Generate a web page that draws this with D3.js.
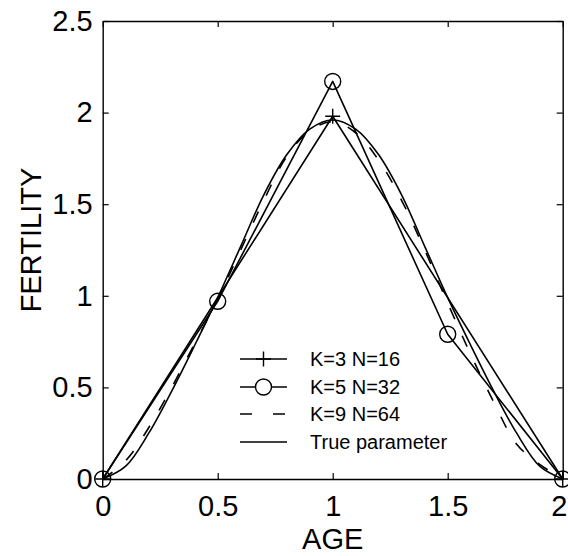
<!DOCTYPE html>
<html>
<head>
<meta charset="utf-8">
<script src="https://cdn.jsdelivr.net/npm/d3@7"></script>
<style>
  html, body { margin: 0; padding: 0; background: #fff; }
  svg { display: block; font-family: "Liberation Sans", Arial, Helvetica, sans-serif; }
</style>
</head>
<body>
<svg id="chart" width="568" height="556"></svg>
<script>
// ---- data ----
const ageK3 = [0, 1, 2];
const fertK3 = [0, 1.98, 0];

const ageK5 = [0, 0.5, 1, 1.5, 2];
const fertK5 = [0, 0.97, 2.17, 0.79, 0];

const ageK9 = [0, 0.1, 0.2, 0.3, 0.4, 0.5, 0.6, 0.7, 0.8, 0.9, 1.0, 1.1, 1.2, 1.3, 1.4, 1.5, 1.6, 1.7, 1.8, 1.9, 2.0];
const fertK9 = [0, 0.10, 0.28, 0.50, 0.74, 0.98, 1.25, 1.52, 1.76, 1.90, 1.95, 1.89, 1.74, 1.52, 1.25, 0.96, 0.68, 0.42, 0.19, 0.08, 0];

const ageTrue = [0, 0.1, 0.2, 0.3, 0.4, 0.5, 0.6, 0.7, 0.8, 0.9, 1.0, 1.1, 1.2, 1.3, 1.4, 1.5, 1.6, 1.7, 1.8, 1.9, 2.0];
const fertTrue = [0, 0.07, 0.25, 0.48, 0.73, 0.99, 1.27, 1.55, 1.77, 1.91, 1.96, 1.91, 1.77, 1.55, 1.27, 0.99, 0.73, 0.48, 0.25, 0.07, 0];

const xTicks = [0, 0.5, 1, 1.5, 2];
const yTicks = [0, 0.5, 1, 1.5, 2, 2.5];
const legendLabels = ["K=3 N=16", "K=5 N=32", "K=9 N=64", "True parameter"];
const xTitle = "AGE";
const yTitle = "FERTILITY";

// ---- layout ----
const L = 102.7, R = 562.7, T = 21, B = 479;
const svg = d3.select("#chart");
const x = d3.scaleLinear().domain([0, 2]).range([L, R]);
const y = d3.scaleLinear().domain([0, 2.5]).range([B, T]);

const fmt = d => d3.format("")(d);

// axes (ticks pointing inward, MATLAB style box)
const gx = svg.append("g").attr("transform", `translate(0,${B})`)
  .call(d3.axisBottom(x).tickValues(xTicks).tickFormat(fmt).tickSize(-6).tickSizeOuter(0).tickPadding(16));
const gy = svg.append("g").attr("transform", `translate(${L},0)`)
  .call(d3.axisLeft(y).tickValues(yTicks).tickFormat(fmt).tickSize(-6).tickSizeOuter(0).tickPadding(10));
const gt = svg.append("g").attr("transform", `translate(0,${T})`)
  .call(d3.axisTop(x).tickValues(xTicks).tickFormat("").tickSize(-6).tickSizeOuter(0));
const gr = svg.append("g").attr("transform", `translate(${R},0)`)
  .call(d3.axisRight(y).tickValues(yTicks).tickFormat("").tickSize(-6).tickSizeOuter(0));

[gx, gy, gt, gr].forEach(g => {
  g.selectAll("path.domain").attr("stroke", "#000").attr("stroke-width", 1.4);
  g.selectAll(".tick line").attr("stroke", "#000").attr("stroke-width", 1.2);
  g.selectAll("text").attr("font-size", 29).attr("fill", "#000")
    .attr("font-family", "'Liberation Sans', Arial, sans-serif");
});
// keep the last x label inside the window edge
gx.selectAll(".tick text").filter(d => d === 2).attr("dx", -4);

// axis titles
svg.append("text").attr("x", (L + R) / 2).attr("y", 549).attr("text-anchor", "middle")
  .attr("font-size", 29).text(xTitle);
svg.append("text").attr("transform", `translate(41,240) rotate(-90)`).attr("text-anchor", "middle")
  .attr("font-size", 29).text(yTitle);

// series
const lineStyle = (sel, dash) => sel.attr("fill", "none").attr("stroke", "#000")
  .attr("stroke-width", 1.6).attr("stroke-linejoin", "round").attr("stroke-dasharray", dash || null);

const straight = d3.line().x(d => x(d[0])).y(d => y(d[1]));
const smooth = d3.line().x(d => x(d[0])).y(d => y(d[1])).curve(d3.curveCatmullRom.alpha(0.5));

const zip = (a, b) => a.map((v, i) => [v, b[i]]);

const plot = svg.append("g");
plot.append("path").datum(zip(ageTrue, fertTrue)).attr("d", smooth).call(lineStyle);
plot.append("path").datum(zip(ageK9, fertK9)).attr("d", smooth).call(lineStyle, "12,18");
plot.append("path").datum(zip(ageK3, fertK3)).attr("d", straight).call(lineStyle);
plot.append("path").datum(zip(ageK5, fertK5)).attr("d", straight).call(lineStyle);

const plusPath = (cx, cy, s) => `M${cx - s},${cy}H${cx + s}M${cx},${cy - s}V${cy + s}`;

plot.selectAll("path.plus").data(zip(ageK3, fertK3)).enter().append("path")
  .attr("class", "plus").attr("d", d => plusPath(x(d[0]), y(d[1]), 7.5))
  .attr("stroke", "#000").attr("stroke-width", 1.4).attr("fill", "none");
plot.selectAll("circle.mk").data(zip(ageK5, fertK5)).enter().append("circle")
  .attr("class", "mk").attr("cx", d => x(d[0])).attr("cy", d => y(d[1])).attr("r", 8)
  .attr("stroke", "#000").attr("stroke-width", 1.4).attr("fill", "none");

// legend
const legX0 = 240, legX1 = 287, legTextX = 310;
const legRows = [359, 387, 414, 442];
const leg = svg.append("g");
legendLabels.forEach((lab, i) => {
  const yy = legRows[i];
  const seg = leg.append("path").attr("d", `M${legX0},${yy}H${legX1}`);
  lineStyle(seg, i === 2 ? "12,21" : null);
  const cx = (legX0 + legX1) / 2;
  if (i === 0) leg.append("path").attr("d", plusPath(cx, yy, 7.5)).attr("stroke", "#000").attr("stroke-width", 1.4);
  if (i === 1) leg.append("circle").attr("cx", cx).attr("cy", yy).attr("r", 8)
    .attr("stroke", "#000").attr("stroke-width", 1.4).attr("fill", "#fff");
  leg.append("text").attr("x", legTextX).attr("y", yy + 7).attr("font-size", 20).text(lab);
});
</script>
</body>
</html>
